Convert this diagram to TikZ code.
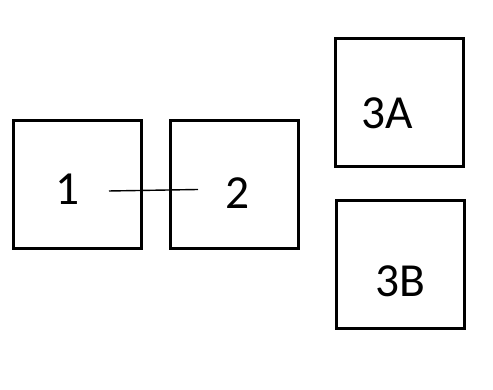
\documentclass[tikz,border=0pt]{standalone}
\usepackage{fontspec}
\setmainfont{Carlito}
\usepackage{tikz}
\usetikzlibrary{positioning}
\tikzset{
	% block styles
	blk/.style ={rectangle, draw=black, line width=1.5pt, minimum size=2.56cm, inner sep=0pt},
	lbl/.style ={anchor=base, inner sep=0pt, font=\fontsize{27}{32}\selectfont},
	wire/.style={line width=0.8pt},
}
\begin{document}
\begin{tikzpicture}
	\useasboundingbox (0,0) rectangle (9.86,7.8);
	\node[blk] (b1)  at (1.55,4.11) {};
	\node[blk] (b2)  at (4.69,4.11) {};
	\node[blk] (b3a) at (7.99,5.75) {};
	\node[blk] (b3b) at (8.01,2.51) {};
	\node[lbl] (t1)  at (1.35,3.70) {1};
	\node[lbl] (t2)  at (4.76,3.63) {2};
	\node[lbl] (t3a) at (7.74,5.23) {3A};
	\node[lbl] (t3b) at (8.00,1.87) {3B};
	% link between 1 and 2
	\coordinate (w1) at (2.18,3.98);
	\coordinate (w2) at (3.96,4.01);
	\draw[wire] (w1) -- (w2);
\end{tikzpicture}
\end{document}
